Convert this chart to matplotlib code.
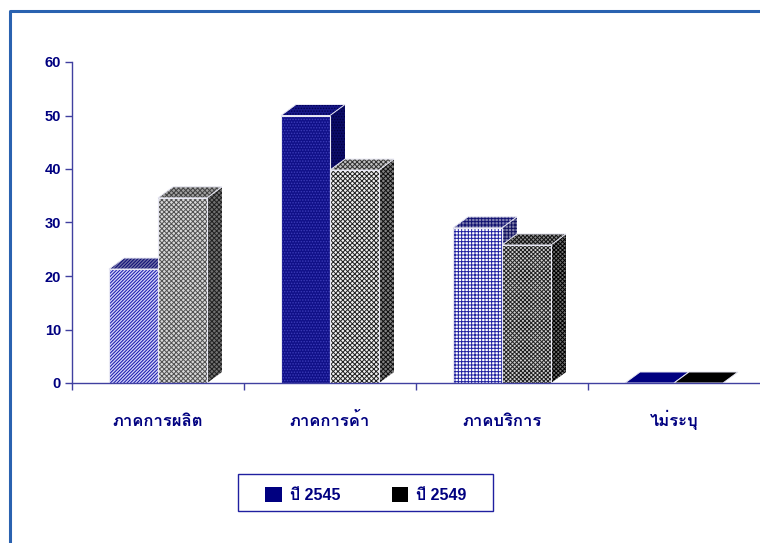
import matplotlib
matplotlib.use("Agg")
import matplotlib.pyplot as plt
from matplotlib.patches import Polygon, Patch, Rectangle

categories = ['ภาคการผลิต', 'ภาคการค้า', 'ภาคบริการ', 'ไม่ระบุ']
values_2545 = [21.3, 50, 29, 0]
values_2549 = [34.6, 39.8, 25.8, 0]
y_ticks = [0, 10, 20, 30, 40, 50, 60]
series_names = ['ปี 2545', 'ปี 2549']

NAVY = '#000080'
AXIS = '#4040a0'
plt.rcParams['font.family'] = ['Liberation Sans', 'Loma', 'Noto Sans Thai Looped']
plt.rcParams['font.weight'] = 'bold'
plt.rcParams['hatch.linewidth'] = 0.7

fig = plt.figure(figsize=(7.6, 5.43), dpi=100)
ax = fig.add_axes([72 / 760, 160 / 543, 688 / 760, 321 / 543])
ax.set_xlim(0, 4)
ax.set_ylim(0, 60)

bar_w = 49 / 172
dx = 15 / 172
dy = 11 / 5.35

# front face, front hatch colour, hatch, top (face, hatch colour), side (face, hatch colour)
styles_2545 = [
    ('#d0d0f8', '#1414a8', '//////////', ('#7070a8', '#080870'), ('#5050a0', '#0a0a60')),
    ('#101088', '#3c3cb8', '......', ('#181888', '#000050'), ('#0c0c68', '#000040')),
    ('#ffffff', '#2020a0', '+++++', ('#8080b0', '#101070'), ('#8080a8', '#101060')),
    (NAVY, NAVY, '', (NAVY, NAVY), (NAVY, NAVY)),
]
styles_2549 = [
    ('#d8d8d8', '#505050', 'xxxxxxx', ('#a0a0a0', '#404040'), ('#707070', '#202020')),
    ('#f0f0f0', '#202020', 'xxxxxxx', ('#c0c0c0', '#303030'), ('#808080', '#101010')),
    ('#d0d0d0', '#202020', 'xxxxxxxx', ('#909090', '#101010'), ('#707070', '#000000')),
    ('black', 'black', '', ('black', 'black'), ('black', 'black')),
]


def draw_bar(x, h, style):
    face, hc, hatch, top_c, side_c = style
    ax.bar(x, h, bar_w, align='edge', facecolor=face, edgecolor=hc, hatch=hatch, linewidth=0, zorder=3)
    ax.add_patch(Rectangle((x, 0), bar_w, h, fill=False, edgecolor='#e8e8f4', linewidth=0.8, zorder=4))
    top = [(x, h), (x + bar_w, h), (x + bar_w + dx, h + dy), (x + dx, h + dy)]
    side = [(x + bar_w, 0), (x + bar_w + dx, dy), (x + bar_w + dx, h + dy), (x + bar_w, h)]
    ax.add_patch(Polygon(side, facecolor=side_c[0], edgecolor=side_c[1], hatch=hatch, linewidth=0, zorder=2, clip_on=False))
    ax.add_patch(Polygon(top, facecolor=top_c[0], edgecolor=top_c[1], hatch=hatch, linewidth=0, zorder=2, clip_on=False))
    ax.add_patch(Polygon(top, fill=False, edgecolor='#e8e8f4', linewidth=0.7, zorder=2, clip_on=False))


for i in range(len(categories)):
    x0 = i + 0.5 - bar_w
    draw_bar(x0, values_2545[i], styles_2545[i])
    draw_bar(x0 + bar_w, values_2549[i], styles_2549[i])

for s in ['top', 'right']:
    ax.spines[s].set_visible(False)
for s in ['left', 'bottom']:
    ax.spines[s].set_color(AXIS)
    ax.spines[s].set_linewidth(1)
    ax.spines[s].set_zorder(5)

ax.set_yticks(y_ticks)
ax.set_xticks(range(4))
ax.set_xticklabels([])
ax.tick_params(axis='y', color=AXIS, labelcolor=NAVY, labelsize=10.5, length=5, width=1, pad=3, direction='out')
ax.tick_params(axis='x', color=AXIS, length=5, width=1)
for i, name in enumerate(categories):
    ax.text(i + 0.5, -8.1, name, ha='center', va='baseline', color=NAVY, fontsize=12, fontweight='bold')

# legend box is bigger than what the entries need, so frame is drawn separately
fig.add_artist(Rectangle((238 / 760, 1 - 511 / 543), 255 / 760, 37 / 543, transform=fig.transFigure,
                         facecolor='white', edgecolor='#2020a0', linewidth=1))
handles = [Patch(facecolor=NAVY), Patch(facecolor='black')]
fig.legend(handles, series_names, loc='center', bbox_to_anchor=(366 / 760, 1 - 495 / 543), ncol=2,
           frameon=False, labelcolor=NAVY, fontsize=11.5,
           handlelength=1.05, handleheight=1.05, columnspacing=3.2, handletextpad=0.5,
           borderpad=0, borderaxespad=0)

# page frame, only top and left are visible
fig.add_artist(plt.Line2D([9.7 / 760, 9.7 / 760, 1], [0, 1 - 10.7 / 543, 1 - 10.7 / 543], color='#2a62b0', linewidth=2.2))

fig.savefig('out.png', dpi=100)
